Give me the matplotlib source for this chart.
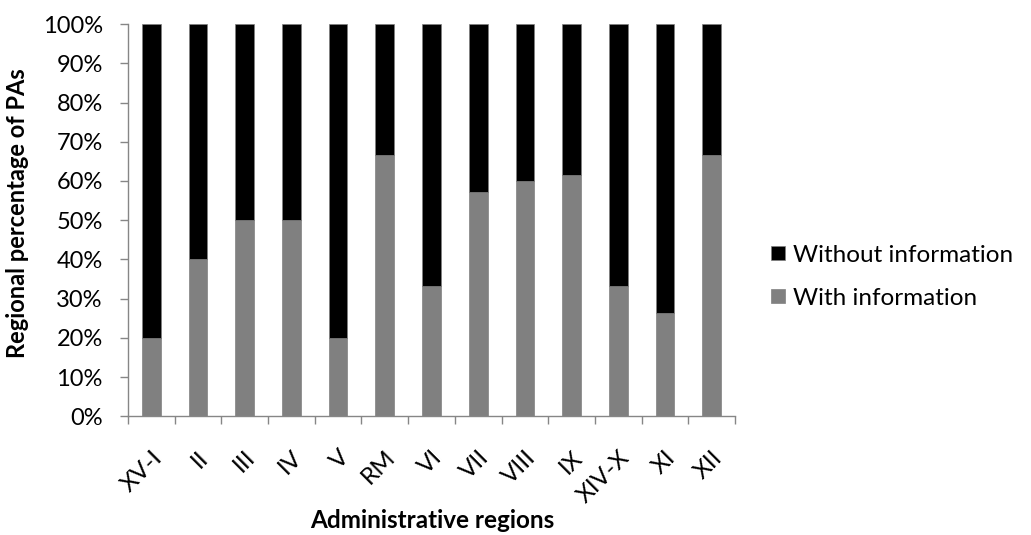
import matplotlib
matplotlib.use("Agg")
import matplotlib.pyplot as plt
import numpy as np
from matplotlib.ticker import FixedLocator, PercentFormatter

regions = ["XV-I", "II", "III", "IV", "V", "RM", "VI", "VII", "VIII", "IX", "XIV-X", "XI", "XII"]
with_info = [20.0, 40.0, 50.0, 50.0, 20.0, 66.7, 33.3, 57.1, 60.0, 61.5, 33.3, 26.3, 66.7]
without_info = [100 - v for v in with_info]

plt.rcParams['font.family'] = ['Lato', 'DejaVu Sans']

fig = plt.figure(figsize=(10.31, 5.35), dpi=100)
ax = fig.add_axes([0.124, 0.222, 0.589, 0.733])

x = np.arange(len(regions))
ax.bar(x, with_info, width=0.4, color="#808080", edgecolor="#808080", linewidth=0.5, label="With information")
ax.bar(x, without_info, width=0.4, bottom=with_info, color="#000000", edgecolor="#808080", linewidth=0.5, label="Without information")

ax.set_xlim(-0.5, len(regions) - 0.5)
ax.set_ylim(0, 100)
ax.set_yticks(np.arange(0, 101, 10))
ax.yaxis.set_major_formatter(PercentFormatter(decimals=0))
ax.set_xticks(x)
ax.set_xticklabels(regions, rotation=45, ha="right", rotation_mode="anchor")
ax.xaxis.set_minor_locator(FixedLocator(np.arange(-0.5, len(regions), 1.0)))
ax.tick_params(axis="x", which="major", length=0, labelsize=17.5, pad=22)
ax.tick_params(axis="x", which="minor", length=6, color="#868686", width=1)
ax.tick_params(axis="y", length=6, color="#868686", width=1, labelsize=17, pad=12)

for s in ["top", "right"]:
    ax.spines[s].set_visible(False)
for s in ["left", "bottom"]:
    ax.spines[s].set_color("#868686")
    ax.spines[s].set_linewidth(1)

fig.text(18 / 1031, 1 - 213 / 535, "Regional percentage of PAs", fontsize=17, fontweight="bold",
         rotation=90, ha="center", va="center")
fig.text(432 / 1031, 1 - 520 / 535, "Administrative regions", fontsize=17.5, fontweight="bold",
         ha="center", va="center")

handles, labels = ax.get_legend_handles_labels()
leg = fig.legend(handles[::-1], labels[::-1], loc="center left", bbox_to_anchor=(0.748, 0.483),
                 frameon=False, fontsize=17.5, handlelength=0.55, handleheight=0.55,
                 handletextpad=0.35, labelspacing=0.9, borderaxespad=0, borderpad=0)

fig.savefig("out.png", dpi=100)
